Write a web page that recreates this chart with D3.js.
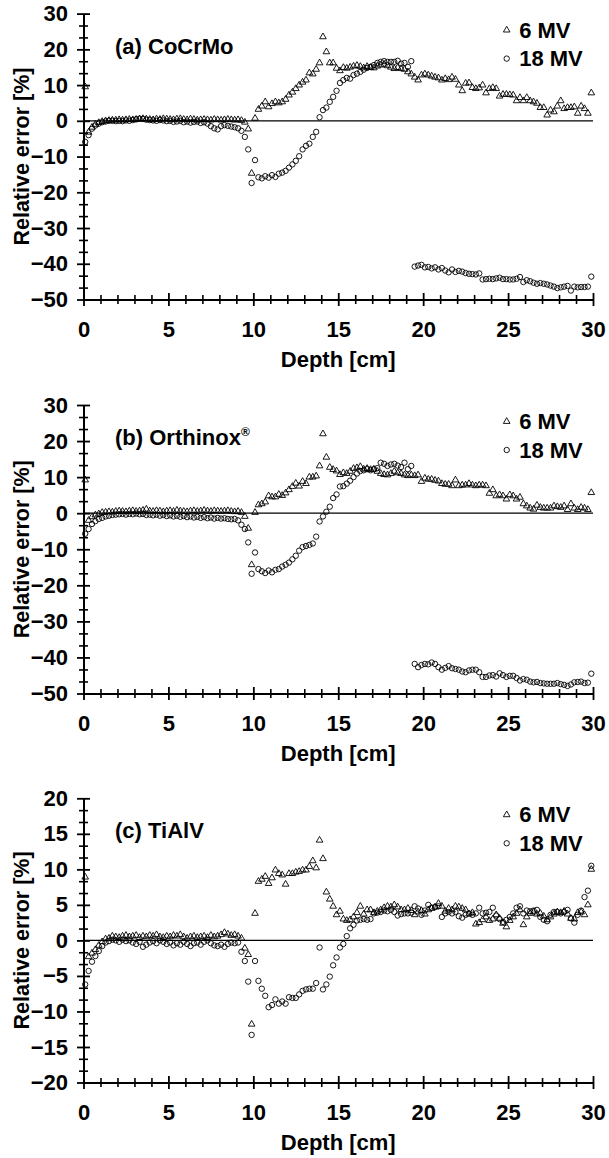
<!DOCTYPE html>
<html>
<head>
<meta charset="utf-8">
<style>
body { margin: 0; background: #fff; }
svg text { font-family: "Liberation Sans", Arial, Helvetica, sans-serif; font-weight: bold; fill: #000; }
</style>
</head>
<body>
<svg width="609" height="1158"></svg>
<script src="https://cdn.jsdelivr.net/npm/d3@7"></script>
<script>
// depth grid [cm]
const depth = [
  0.1,0.3,0.5,0.7,0.9,1.1,1.3,1.5,1.7,1.9,
  2.1,2.3,2.5,2.7,2.9,3.1,3.3,3.5,3.7,3.9,
  4.1,4.3,4.5,4.7,4.9,5.1,5.3,5.5,5.7,5.9,
  6.1,6.3,6.5,6.7,6.9,7.1,7.3,7.5,7.7,7.9,
  8.1,8.3,8.5,8.7,8.9,9.1,9.3,9.5,9.7,9.9,
  10.1,10.3,10.5,10.7,10.9,11.1,11.3,11.5,11.7,11.9,
  12.1,12.3,12.5,12.7,12.9,13.1,13.3,13.5,13.7,13.9,
  14.1,14.3,14.5,14.7,14.9,15.1,15.3,15.5,15.7,15.9,
  16.1,16.3,16.5,16.7,16.9,17.1,17.3,17.5,17.7,17.9,
  18.1,18.3,18.5,18.7,18.9,19.1,19.3,19.5,19.7,19.9,
  20.1,20.3,20.5,20.7,20.9,21.1,21.3,21.5,21.7,21.9,
  22.1,22.3,22.5,22.7,22.9,23.1,23.3,23.5,23.7,23.9,
  24.1,24.3,24.5,24.7,24.9,25.1,25.3,25.5,25.7,25.9,
  26.1,26.3,26.5,26.7,26.9,27.1,27.3,27.5,27.7,27.9,
  28.1,28.3,28.5,28.7,28.9,29.1,29.3,29.5,29.7,29.9
]

const xTicks = [0, 5, 10, 15, 20, 25, 30]
const yTicksAB = [30, 20, 10, 0, -10, -20, -30, -40, -50]
const yTicksC = [20, 15, 10, 5, 0, -5, -10, -15, -20]
const seriesNames = ["6 MV", "18 MV"]

// (a) CoCrMo
const cocrmo6 = [
  9.5,-3.2,-1.8,-1.0,-0.5, -0.2,0.0,0.1,0.2,0.2,
  0.3,0.2,0.3,0.4,0.3, 0.4,0.5,0.6,0.5,0.4,
  0.3,0.5,0.4,0.6,0.5, 0.4,0.3,0.5,0.6,0.4,
  0.3,0.5,0.4,0.2,0.3, 0.4,0.3,0.2,0.4,0.3,
  0.2,0.3,0.4,0.3,0.2, 0.3,0.1,-0.4,-2.3,-14.7,
  0.7,3.2,4.1,5.3,3.9, 4.8,5.3,5.0,5.3,6.0,
  7.2,8.0,9.0,10.0,10.8, 11.4,13.4,13.1,14.4,16.2,
  23.5,19.3,16.2,16.2,14.7, 14.0,14.9,14.7,15.0,15.3,
  15.5,15.2,14.8,15.2,14.9, 14.8,15.3,15.6,15.8,15.4,
  15.0,14.6,14.9,14.6,14.4, 13.7,13.1,12.2,11.4,12.8,
  13.1,12.8,12.5,12.2,12.0, 11.4,11.8,11.5,12.2,11.6,
  10.0,8.4,10.5,10.6,9.3, 9.0,9.2,10.0,7.8,9.0,
  9.3,9.0,6.9,7.4,7.4, 7.3,7.2,5.6,6.5,5.6,
  6.5,5.6,5.3,4.9,3.7, 3.7,1.6,3.0,2.5,4.1,
  5.6,3.4,3.7,3.7,3.9, 2.1,4.1,3.4,2.1,7.8
]
const cocrmo18 = [
  -5.9,-4.0,-2.2,-1.3,-0.8, -0.4,-0.2,0.0,0.0,-0.1,
  0.0,-0.1,0.1,0.0,0.2, 0.4,0.6,0.5,0.3,0.2,
  0.1,0.0,0.2,0.1,-0.1, 0.0,-0.3,-0.2,0.0,-0.4,
  -0.2,-0.5,-0.3,-0.2,-0.6, -0.4,-0.8,-1.5,-2.1,-2.4,
  -1.5,-1.2,-1.4,-1.6,-1.8, -2.1,-2.8,-4.5,-8.0,-17.4,
  -11.0,-15.8,-16.1,-15.5,-15.9, -15.2,-15.7,-14.8,-14.5,-14.0,
  -13.1,-12.2,-11.2,-9.9,-8.0, -7.0,-6.4,-4.5,-3.1,1.0,
  3.0,3.7,5.3,6.7,8.4, 10.6,11.4,12.0,11.8,12.8,
  13.2,13.7,14.3,14.8,15.1, 15.6,16.2,16.5,16.7,16.5,
  16.5,16.5,16.8,16.0,16.2, 15.1,16.7,-40.8,-40.5,-40.3,
  -41.0,-40.9,-41.3,-41.0,-41.6, -41.2,-41.9,-42.4,-41.6,-42.3,
  -42.0,-42.2,-42.6,-42.8,-42.9, -43.0,-42.7,-44.4,-44.3,-44.2,
  -44.3,-44.1,-43.9,-44.3,-44.3, -44.4,-44.4,-44.2,-43.7,-45.1,
  -44.6,-44.9,-45.3,-45.6,-45.4, -45.6,-45.8,-46.1,-46.4,-46.8,
  -46.6,-46.4,-46.2,-47.5,-46.4, -46.6,-46.5,-46.5,-46.4,-43.6
]

// (b) Orthinox
const orthinox6 = [
  9.2,-2.0,-1.0,-0.5,-0.2, 0.2,0.3,0.4,0.3,0.5,
  0.6,0.5,0.4,0.6,0.7, 0.5,0.6,0.8,1.1,0.6,
  0.5,0.7,0.6,0.4,0.6, 0.7,0.5,0.8,0.6,0.5,
  0.4,0.6,0.7,0.5,0.6, 0.8,0.6,0.5,0.7,0.6,
  0.5,0.6,0.7,0.5,0.4, 0.5,0.2,-0.9,-4.2,-14.3,
  0.2,2.3,2.6,3.1,4.8, 4.5,4.5,5.2,4.9,5.6,
  6.5,7.4,8.3,7.5,8.8, 8.2,10.0,10.0,10.3,13.1,
  22.0,15.5,12.7,12.1,11.7, 10.7,11.2,11.0,11.6,12.4,
  12.6,12.9,12.2,12.4,12.1, 12.2,11.6,11.0,10.7,10.6,
  11.0,11.6,11.2,11.0,10.6, 10.4,10.6,10.4,10.6,8.8,
  9.7,9.4,9.4,9.1,8.9, 8.2,8.0,8.0,7.6,9.2,
  7.6,7.8,7.8,8.2,7.8, 7.6,7.8,7.8,7.6,5.5,
  6.5,4.8,5.1,4.8,3.9, 5.1,4.8,3.9,4.4,2.6,
  2.0,1.4,1.1,2.2,1.6, 1.4,1.4,1.4,2.0,1.8,
  1.6,2.0,1.0,2.6,1.4, 1.0,1.6,1.4,1.0,5.7
]
const orthinox18 = [
  -5.7,-4.4,-3.0,-2.2,-1.6, -1.3,-0.9,-0.7,-0.5,-0.4,
  -0.3,-0.2,-0.4,-0.2,-0.3, -0.1,-0.3,-0.2,-0.5,-0.4,
  -0.6,-0.4,-0.7,-0.5,-0.8, -0.6,-0.9,-0.7,-1.0,-0.8,
  -1.1,-0.9,-1.2,-1.0,-1.3, -1.1,-1.4,-1.2,-1.5,-1.3,
  -1.5,-1.4,-1.6,-1.7,-1.6, -2.0,-3.2,-4.4,-8.1,-16.8,
  -10.9,-15.5,-16.1,-16.6,-15.9, -16.4,-15.7,-15.5,-14.8,-14.3,
  -13.7,-12.8,-11.8,-10.4,-9.4, -9.1,-8.8,-8.4,-6.5,-2.3,
  -0.9,0.4,1.8,4.2,5.2, 7.4,7.5,8.2,9.0,10.0,
  11.0,11.7,11.9,12.2,11.9, 12.2,12.5,14.0,13.7,13.1,
  13.5,13.7,13.2,12.8,14.0, 12.2,13.1,-41.8,-42.7,-42.1,
  -41.8,-41.9,-41.4,-41.8,-42.7, -43.4,-42.9,-42.4,-43.0,-43.2,
  -43.4,-43.9,-44.1,-43.6,-43.4, -43.4,-44.1,-45.4,-45.4,-45.0,
  -44.9,-45.3,-44.4,-44.9,-45.4, -45.1,-45.1,-45.7,-46.4,-46.0,
  -46.2,-46.7,-46.9,-46.8,-47.1, -47.2,-47.3,-47.3,-47.3,-47.1,
  -47.4,-47.6,-47.9,-47.5,-46.9, -46.8,-46.7,-47.1,-47.0,-44.5
]

// (c) TiAlV
const tialv6 = [
  8.9,-2.3,-1.8,-1.3,-0.7, -0.2,0.2,0.3,0.6,0.5,
  0.4,0.6,0.7,0.5,0.6, 0.7,0.4,0.6,0.5,0.7,
  0.6,0.8,0.5,0.4,0.6, 0.5,0.7,0.6,0.8,0.5,
  0.3,0.5,0.6,0.4,0.5, 0.6,0.4,0.7,0.5,0.6,
  0.8,1.1,0.9,0.7,0.8, 0.6,0.3,-1.1,-2.0,-11.8,
  3.8,8.3,8.6,9.0,8.0, 8.8,9.9,9.4,9.2,7.9,
  9.4,9.4,9.6,9.7,9.9, 9.9,10.4,11.2,10.2,14.1,
  11.5,6.8,5.8,4.8,3.6, 4.1,3.0,2.8,2.9,3.3,
  3.9,4.8,3.7,4.3,4.3, 3.9,4.1,4.3,4.6,4.8,
  4.7,5.0,4.7,4.3,4.3, 4.5,4.2,3.6,4.0,4.2,
  3.7,4.3,4.5,4.7,5.2, 4.8,4.1,4.5,4.3,4.8,
  4.7,4.5,4.3,3.7,3.9, 2.3,2.5,2.9,3.3,2.8,
  3.0,3.6,3.1,2.4,1.9, 2.8,3.3,3.8,4.3,2.2,
  3.3,3.8,4.0,3.7,3.8, 3.4,2.9,3.3,3.7,4.0,
  3.9,4.1,3.7,3.1,3.0, 3.9,4.0,3.6,5.0,10.0
]
const tialv18 = [
  -6.2,-4.3,-3.0,-2.2,-1.5, -0.8,-0.3,-0.1,0.1,0.0,
  -0.2,0.1,-0.1,0.0,-0.3, -0.5,-0.2,-0.9,-0.6,-0.3,
  -0.1,-0.4,0.0,-0.2,-0.5, -0.3,-0.7,-0.4,-0.6,-0.2,
  -0.5,-0.8,-0.4,-0.3,-0.6, -0.2,0.0,-0.4,-0.7,-0.8,
  -0.6,-0.9,-0.5,-0.3,-0.4, -0.3,-1.6,-2.9,-5.8,-13.3,
  -2.9,-5.7,-6.8,-7.8,-9.4, -9.1,-8.3,-8.9,-8.6,-8.9,
  -8.0,-8.1,-8.1,-7.6,-7.1, -6.9,-6.8,-6.8,-6.0,-1.0,
  -6.9,-6.2,-5.1,-3.5,-2.4, -1.0,-0.5,0.6,1.7,2.2,
  2.8,2.9,3.0,2.9,3.0, 3.8,3.9,4.0,4.2,4.1,
  4.3,4.0,3.5,3.7,3.8, 3.8,3.9,4.8,4.5,3.6,
  4.2,5.0,4.6,4.7,4.8, 3.3,3.8,4.0,3.8,4.0,
  3.4,3.2,3.6,3.8,3.6, 3.8,4.6,3.8,3.9,4.0,
  4.6,3.5,3.0,2.6,2.9, 3.3,3.8,4.6,4.8,3.8,
  4.2,4.1,4.2,4.3,3.3, 2.9,2.7,3.6,4.0,4.0,
  3.8,4.0,4.3,3.1,2.5, 3.6,4.2,6.1,7.0,10.5
]

const panels = [
  {title: "(a) CoCrMo", sup: null, mv6: cocrmo6, mv18: cocrmo18, yDomain: [-50, 30], yTicks: yTicksAB, yStep: 10, top: 13.6, bottom: 299.5},
  {title: "(b) Orthinox", sup: "®", mv6: orthinox6, mv18: orthinox18, yDomain: [-50, 30], yTicks: yTicksAB, yStep: 10, top: 405, bottom: 693.5},
  {title: "(c) TiAlV", sup: null, mv6: tialv6, mv18: tialv18, yDomain: [-20, 20], yTicks: yTicksC, yStep: 5, top: 798.3, bottom: 1082.5}
]

const svg = d3.select("svg")
const left = 83.5, right = 593
const x = d3.scaleLinear().domain([0, 30]).range([left, right])
const tri = d3.symbol().type(d3.symbolTriangle).size(19)

panels.forEach(function(p) {
  const y = d3.scaleLinear().domain(p.yDomain).range([p.bottom, p.top])
  const g = svg.append("g")

  //zero line
  g.append("line").attr("x1", x(0)).attr("x2", x(30)).attr("y1", y(0)).attr("y2", y(0))
    .attr("stroke", "#000").attr("stroke-width", 1.2)

  //minor ticks: two per major interval on y, every cm on x
  const yMinor = []
  p.yTicks.forEach(v => { if (v < p.yDomain[1]) { yMinor.push(v + p.yStep / 3, v + 2 * p.yStep / 3) } })
  const xMinor = d3.range(1, 30).filter(v => v % 5 !== 0)

  const yMin = g.append("g").attr("transform", `translate(${left},0)`)
    .call(d3.axisLeft(y).tickValues(yMinor).tickFormat("").tickSize(4.5).tickSizeOuter(0))
  yMin.selectAll(".tick line").attr("x1", 4.5).attr("stroke-width", 1.6)
  yMin.select(".domain").remove()

  const xMin = g.append("g").attr("transform", `translate(0,${p.bottom})`)
    .call(d3.axisBottom(x).tickValues(xMinor).tickFormat("").tickSize(4.5).tickSizeOuter(0))
  xMin.selectAll(".tick line").attr("y1", -4.5).attr("stroke-width", 1.6)
  xMin.select(".domain").remove()

  const yAxis = g.append("g").attr("transform", `translate(${left},0)`)
    .call(d3.axisLeft(y).tickValues(p.yTicks).tickSize(6.5).tickPadding(9).tickSizeOuter(0))
  yAxis.attr("font-size", 22).attr("font-family", null)
  yAxis.selectAll(".tick line").attr("x1", 6.5).attr("stroke-width", 1.8)
  yAxis.select(".domain").attr("stroke-width", 2)

  const xAxis = g.append("g").attr("transform", `translate(0,${p.bottom})`)
    .call(d3.axisBottom(x).tickValues(xTicks).tickSize(6.5).tickSizeOuter(0))
  xAxis.attr("font-size", 22).attr("font-family", null)
  xAxis.selectAll(".tick line").attr("y1", -6.5).attr("stroke-width", 1.8)
  xAxis.selectAll(".tick text").attr("y", 30).attr("dy", "0.35em")
  xAxis.select(".domain").attr("stroke-width", 2)

  //axis titles
  g.append("text").attr("x", (left + right) / 2).attr("y", p.bottom + 60).attr("dy", "0.35em")
    .attr("text-anchor", "middle").attr("font-size", 22).text("Depth [cm]")
  g.append("text").attr("transform", `translate(21,${(p.top + p.bottom) / 2}) rotate(-90)`)
    .attr("dy", "0.35em").attr("text-anchor", "middle").attr("font-size", 21.5).text("Relative error [%]")

  //panel title
  const t = g.append("text").attr("x", 115).attr("y", p.top + 40).attr("font-size", 22).text(p.title)
  if (p.sup) t.append("tspan").attr("dy", -9).attr("font-size", 12).text(p.sup)

  //data
  const pts6 = depth.map((d, i) => [d, p.mv6[i]])
  const pts18 = depth.map((d, i) => [d, p.mv18[i]])
  g.append("g").selectAll("circle").data(pts18).join("circle")
    .attr("cx", d => x(d[0])).attr("cy", d => y(d[1])).attr("r", 2.7)
    .attr("fill", "none").attr("stroke", "#000").attr("stroke-width", 0.9)
  g.append("g").selectAll("path").data(pts6).join("path")
    .attr("d", tri).attr("transform", d => `translate(${x(d[0])},${y(d[1])})`)
    .attr("fill", "none").attr("stroke", "#000").attr("stroke-width", 0.9)

  //legend
  const lg = g.append("g").attr("transform", `translate(506.7,${p.top})`)
  lg.append("path").attr("d", tri).attr("transform", "translate(0,16.5)")
    .attr("fill", "none").attr("stroke", "#000").attr("stroke-width", 0.9)
  lg.append("circle").attr("cx", 0).attr("cy", 45).attr("r", 2.7)
    .attr("fill", "none").attr("stroke", "#000").attr("stroke-width", 0.9)
  lg.append("text").attr("x", 12.5).attr("y", 24).attr("font-size", 22).text(seriesNames[0])
  lg.append("text").attr("x", 12.5).attr("y", 52.5).attr("font-size", 22).text(seriesNames[1])
})
</script>
</body>
</html>
